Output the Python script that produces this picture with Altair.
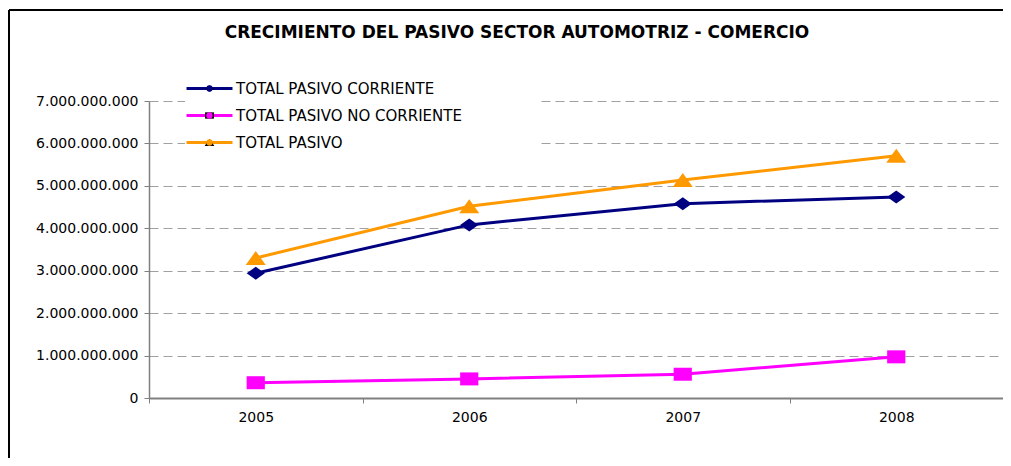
import altair as alt
import pandas as pd

years = ["2005", "2006", "2007", "2008"]
series = ["TOTAL PASIVO CORRIENTE", "TOTAL PASIVO NO CORRIENTE", "TOTAL PASIVO"]
corriente = [2.94e9, 4.08e9, 4.58e9, 4.74e9]
no_corriente = [0.36e9, 0.45e9, 0.56e9, 0.97e9]
total = [3.30e9, 4.52e9, 5.14e9, 5.71e9]
y_ticks = [0, 1e9, 2e9, 3e9, 4e9, 5e9, 6e9, 7e9]
colors = ["#000080", "#FF00FF", "#FF9900"]
shapes = [
    "M-1.4,0L0,-1L1.4,0L0,1Z",
    "M-1.4,-1L1.4,-1L1.4,1L-1.4,1Z",
    "M0,-1.08L1.54,1.08L-1.54,1.08Z",
]
title_text = "CRECIMIENTO DEL PASIVO SECTOR AUTOMOTRIZ - COMERCIO"

rows = []
for s, vals in zip(series, [corriente, no_corriente, total]):
    for yr, v in zip(years, vals):
        rows.append({"anio": yr, "serie": s, "serie_p": s, "valor": v})
df = pd.DataFrame(rows)

FONT = "DejaVu Sans"

x_enc = alt.X(
    "anio:N",
    sort=years,
    title=None,
    scale=alt.Scale(type="band", paddingInner=0, paddingOuter=0),
    axis=alt.Axis(
        tickBand="extent", labelAngle=0, grid=False, tickSize=5, tickColor="#808080",
        domainColor="#808080", domainWidth=2, labelPadding=7, labelFont=FONT,
        labelFontSize=14, labelColor="black",
    ),
)
y_enc = alt.Y(
    "valor:Q",
    title=None,
    scale=alt.Scale(domain=[0, 7e9], nice=False),
    axis=alt.Axis(
        values=y_ticks, labelExpr="replace(format(datum.value, ','), regexp(',', 'g'), '.')",
        grid=True, gridColor="#a0a0a0", gridDash=[9, 5], gridWidth=1,
        tickSize=5, tickColor="#808080", domainColor="#808080", domainWidth=1.5,
        labelPadding=6, labelFont=FONT, labelFontSize=14, labelColor="black",
    ),
)

# trailing blank (Braille blank keeps the spaces from being trimmed) widens the white legend box
PAD = " " * 10 + "\u2800"

line_legend = alt.Legend(
    orient="none", legendX=36, legendY=-37, title=None,
    symbolType="M-4,0H4", symbolSize=132, symbolStrokeWidth=3,
    labelFont=FONT, labelFontSize=15, labelColor="black", labelLimit=600,
    labelOffset=19, labelExpr="datum.label + '" + PAD + "'",
    fillColor="white", padding=17, rowPadding=11,
)
point_legend = alt.Legend(
    orient="none", legendX=45, legendY=-28, title=None,
    symbolSize=40, labelOpacity=0, labelFontSize=15, labelFont=FONT,
    labelExpr="''", padding=8, rowPadding=11,
)

base = alt.Chart(df)

lines = base.mark_line(strokeWidth=3).encode(
    x=x_enc, y=y_enc,
    stroke=alt.Stroke("serie:N", sort=series, scale=alt.Scale(range=colors), legend=line_legend),
)
points = base.mark_point(filled=True, size=169, opacity=1).encode(
    x=x_enc, y=y_enc,
    fill=alt.Fill("serie_p:N", sort=series, scale=alt.Scale(range=colors), legend=point_legend),
    shape=alt.Shape("serie_p:N", sort=series, scale=alt.Scale(range=shapes), legend=point_legend),
)

frame_data = alt.Data(values=[{"k": 1}])
frame_left = alt.Chart(frame_data).mark_rule(color="black", strokeWidth=2).encode(
    x=alt.value(-140), y=alt.value(-91), y2=alt.value(370)
)
frame_top = alt.Chart(frame_data).mark_rule(color="black", strokeWidth=2).encode(
    x=alt.value(-140), x2=alt.value(854), y=alt.value(-91)
)
title_mark = alt.Chart(frame_data).mark_text(
    font=FONT, fontSize=17, fontWeight="bold", color="black",
    align="center", baseline="alphabetic",
).encode(x=alt.value(368), y=alt.value(-63), text=alt.value(title_text))

chart = alt.layer(frame_left, frame_top, title_mark, lines, points).properties(
    width=854, height=297,
    autosize=alt.AutoSizeParams(type="none"),
    padding={"left": 141, "top": 93, "right": 0, "bottom": 60},
    background="white",
).resolve_scale(stroke="independent", fill="independent", shape="independent").configure_view(stroke=None)

chart.save("out.html", embed_options={"renderer": "svg", "actions": False})
